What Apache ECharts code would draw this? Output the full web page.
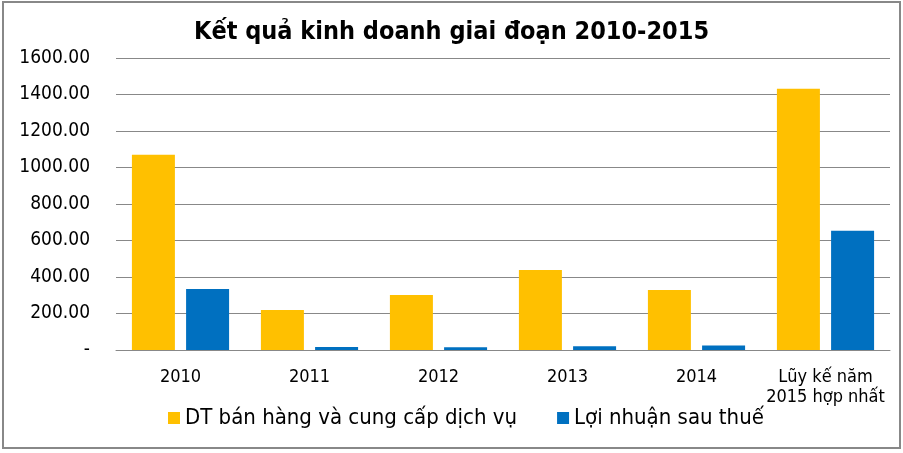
<!DOCTYPE html>
<html><head><meta charset="utf-8">
<script src="https://cdn.jsdelivr.net/npm/echarts@6/dist/echarts.min.js"></script>
<style>html,body{margin:0;padding:0;background:#fff}#c{width:903px;height:453px}</style>
</head><body><div id="c"></div>
<script>
const categories = ['2010','2011','2012','2013','2014','Lũy kế năm\n2015 hợp nhất'];
const revenue = [1070, 219, 302, 439, 329, 1432];
const profit = [334, 16, 15, 20, 25, 653];
const seriesNames = ['DT bán hàng và cung cấp dịch vụ', 'Lợi nhuận sau thuế'];
const titleText = 'Kết quả kinh doanh giai đoạn 2010-2015';

const chart = echarts.init(document.getElementById('c'));
const F = 'DejaVu Sans Condensed, DejaVu Sans, sans-serif';
chart.setOption({
  animation: false,
  title: { text: titleText, left: 'center', top: 15,
    textStyle: { fontFamily: F, fontWeight: 'bold', fontSize: 25, color: '#000' } },
  graphic: [{ type: 'rect', shape: { x: 3, y: 2, width: 897, height: 446 },
    style: { fill: 'none', stroke: '#888', lineWidth: 2 }, silent: true }],
  legend: { top: 402, left: 163, itemWidth: 12, itemHeight: 12, itemGap: 40,
    icon: 'rect',
    textStyle: { fontFamily: F, fontSize: 22, color: '#000' } },
  grid: { left: 116, right: 13, top: 58, bottom: 103 },
  xAxis: { type: 'category', data: categories,
    axisLine: { lineStyle: { color: '#888', width: 1 } }, axisTick: { show: false },
    axisLabel: { interval: 0, fontFamily: F, fontSize: 18, color: '#000', margin: 17, lineHeight: 20 } },
  yAxis: { type: 'value', min: 0, max: 1600, interval: 200,
    axisLine: { show: false }, axisTick: { show: false },
    splitLine: { lineStyle: { color: '#888', width: 1 } },
    axisLabel: { fontFamily: F, fontSize: 19, color: '#000', margin: 26,
      formatter: v => v === 0 ? '-' : v.toFixed(2) } },
  series: [
    { name: seriesNames[0], type: 'bar', data: revenue, barWidth: 43, barGap: '26%',
      itemStyle: { color: '#FFC000' } },
    { name: seriesNames[1], type: 'bar', data: profit, barWidth: 43,
      itemStyle: { color: '#0070C0' } }
  ]
});
</script></body></html>
